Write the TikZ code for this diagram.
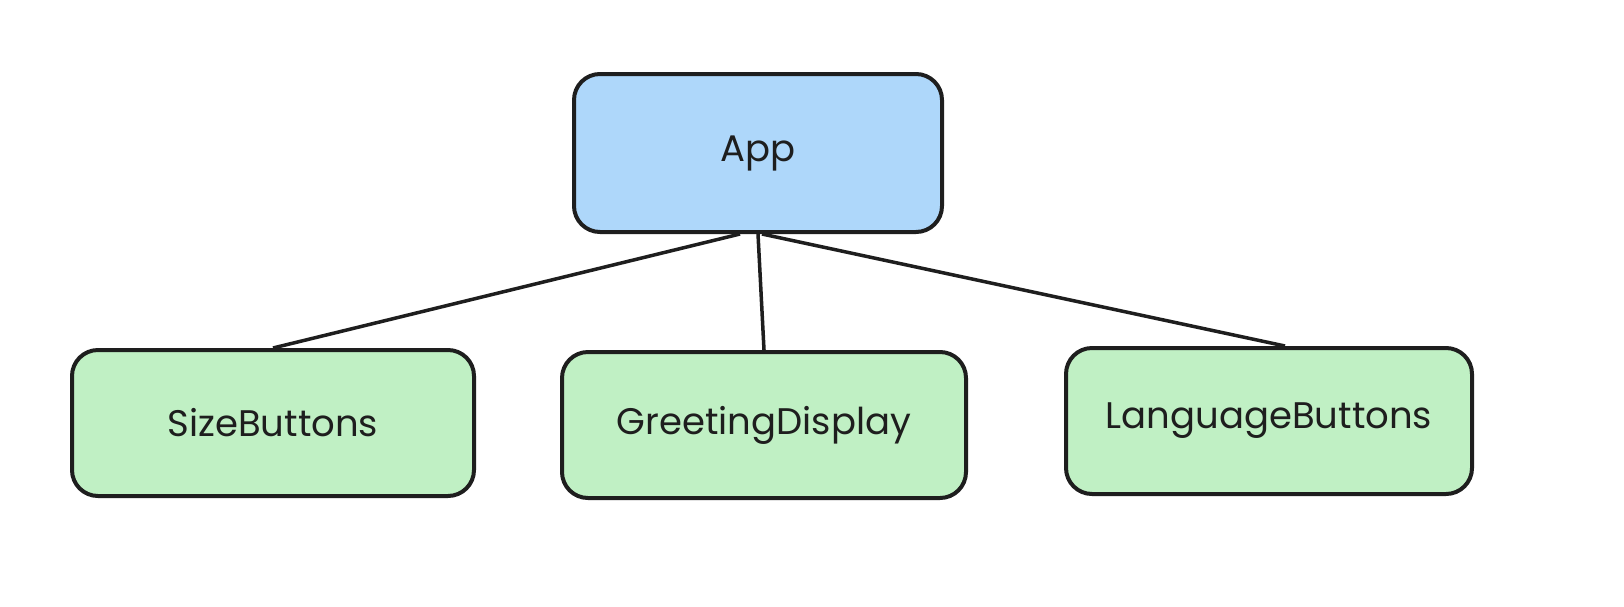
\documentclass[tikz,border=0pt]{standalone}
\usepackage{fontspec}
\setmainfont{Poppins}
\definecolor{bluefill}{RGB}{174,215,250}
\definecolor{greenfill}{RGB}{192,240,196}
\definecolor{ink}{RGB}{30,30,30}
\begin{document}
\begin{tikzpicture}[x=1pt,y=-1pt,
  box/.style={draw=ink, line width=4pt, rounded corners=26pt, align=center,
    font=\fontsize{37}{44}\selectfont, text=ink},
  link/.style={draw=ink, line width=3.5pt}]
\useasboundingbox (0,0) rectangle (1624,606);
\fill[white] (0,0) rectangle (1624,606);
\node[box, fill=bluefill, minimum width=368pt, minimum height=158pt] (app) at (758,153) {App};
\node[box, fill=greenfill, minimum width=402pt, minimum height=146pt] (size) at (273,423) {SizeButtons};
\node[box, fill=greenfill, minimum width=404pt, minimum height=146pt] (greet) at (764,425) {GreetingDisplay};
\node[box, fill=greenfill, minimum width=406pt, minimum height=146pt] (lang) at (1269,421) {LanguageButtons};
\draw[link] ([xshift=-18pt]app.south) -- (size.north);
\draw[link] (app.south) -- (greet.north);
\draw[link] ([xshift=4pt]app.south) -- ([xshift=16pt]lang.north);
\end{tikzpicture}
\end{document}
